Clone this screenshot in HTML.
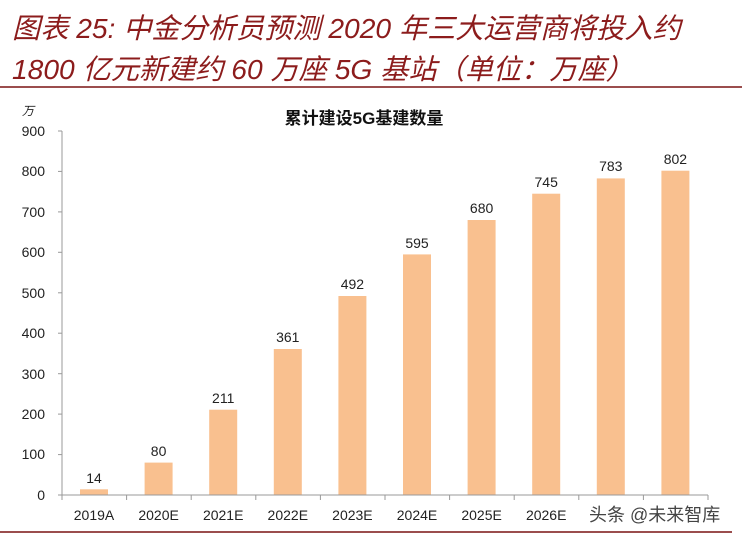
<!DOCTYPE html>
<html><head><meta charset="utf-8"><style>
body{margin:0;background:#fff;width:746px;height:536px;overflow:hidden}
svg{display:block}
</style></head><body>
<svg width="746" height="536" xmlns="http://www.w3.org/2000/svg" font-family="Liberation Sans, Noto Sans CJK SC, sans-serif">
<g fill="#8c1c1c" font-size="28.2" font-style="italic" font-family="Liberation Sans, Noto Sans CJK SC, sans-serif">
<text x="12" y="38">图表 25: 中金分析员预测 2020 年三大运营商将投入约</text>
<text x="12" y="79">1800 亿元新建约 60 万座 5G 基站（单位：万座）</text>
</g>
<line x1="0" y1="87" x2="742" y2="87" stroke="#7a1414" stroke-width="1.5"/>
<line x1="0" y1="532" x2="732" y2="532" stroke="#7a1414" stroke-width="1.5"/>
<text x="22" y="115" font-size="12" font-style="italic" fill="#222">万</text>
<text x="364" y="124" font-size="17" font-weight="bold" text-anchor="middle" fill="#111">累计建设5G基建数量</text>
<g font-size="14" fill="#222" text-anchor="end">
<text x="45" y="136">900</text><text x="45" y="176">800</text><text x="45" y="217">700</text><text x="45" y="257">600</text><text x="45" y="298">500</text><text x="45" y="338">400</text><text x="45" y="379">300</text><text x="45" y="419">200</text><text x="45" y="459">100</text><text x="45" y="500">0</text>
</g>
<g stroke="#999" stroke-width="1">
<line x1="62" y1="131" x2="62" y2="495"/>
<line x1="58" y1="131" x2="62" y2="131"/><line x1="58" y1="171.4" x2="62" y2="171.4"/><line x1="58" y1="211.9" x2="62" y2="211.9"/><line x1="58" y1="252.3" x2="62" y2="252.3"/><line x1="58" y1="292.8" x2="62" y2="292.8"/><line x1="58" y1="333.2" x2="62" y2="333.2"/><line x1="58" y1="373.7" x2="62" y2="373.7"/><line x1="58" y1="414.1" x2="62" y2="414.1"/><line x1="58" y1="454.6" x2="62" y2="454.6"/><line x1="58" y1="495" x2="62" y2="495"/>
</g>
<g fill="#f9c08f">
<rect x="80" y="489.3" width="28" height="5.7"/>
<rect x="144.6" y="462.6" width="28" height="32.4"/>
<rect x="209.2" y="409.7" width="28" height="85.3"/>
<rect x="273.8" y="349" width="28" height="146"/>
<rect x="338.4" y="296" width="28" height="199"/>
<rect x="403" y="254.4" width="28" height="240.6"/>
<rect x="467.6" y="220" width="28" height="275"/>
<rect x="532.2" y="193.7" width="28" height="301.3"/>
<rect x="596.8" y="178.4" width="28" height="316.6"/>
<rect x="661.4" y="170.7" width="28" height="324.3"/>
</g>
<g stroke="#999" stroke-width="1">
<line x1="62" y1="495" x2="708" y2="495"/>
<line x1="62" y1="495" x2="62" y2="500"/><line x1="126.6" y1="495" x2="126.6" y2="500"/><line x1="191.2" y1="495" x2="191.2" y2="500"/><line x1="255.8" y1="495" x2="255.8" y2="500"/><line x1="320.4" y1="495" x2="320.4" y2="500"/><line x1="385" y1="495" x2="385" y2="500"/><line x1="449.6" y1="495" x2="449.6" y2="500"/><line x1="514.2" y1="495" x2="514.2" y2="500"/><line x1="578.8" y1="495" x2="578.8" y2="500"/><line x1="643.4" y1="495" x2="643.4" y2="500"/><line x1="708" y1="495" x2="708" y2="500"/>
</g>
<g font-size="14" fill="#222" text-anchor="middle">
<text x="94" y="483">14</text><text x="158.6" y="456">80</text><text x="223.2" y="403">211</text><text x="287.8" y="342">361</text><text x="352.4" y="289">492</text><text x="417" y="248">595</text><text x="481.6" y="213">680</text><text x="546.2" y="187">745</text><text x="610.8" y="171">783</text><text x="675.4" y="164">802</text>
<text x="94" y="520">2019A</text><text x="158.6" y="520">2020E</text><text x="223.2" y="520">2021E</text><text x="287.8" y="520">2022E</text><text x="352.4" y="520">2023E</text><text x="417" y="520">2024E</text><text x="481.6" y="520">2025E</text><text x="546.2" y="520">2026E</text>
</g>
<text x="589" y="521" font-size="18" fill="#444">头条 @未来智库</text>
</svg>
</body></html>
